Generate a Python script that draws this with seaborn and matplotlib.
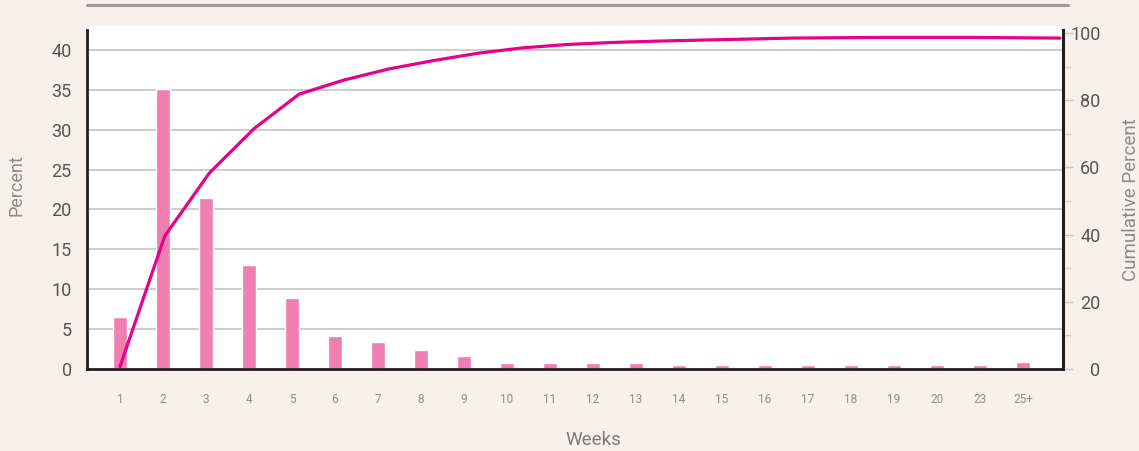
import matplotlib.pyplot as plt
import seaborn as sns
from matplotlib.lines import Line2D
from matplotlib.ticker import MultipleLocator

weeks = ["1", "2", "3", "4", "5", "6", "7", "8", "9", "10", "11", "12",
         "13", "14", "15", "16", "17", "18", "19", "20", "23", "25+"]
percent = [6.5, 35.1, 21.4, 13.0, 8.9, 4.1, 3.4, 2.4, 1.6, 0.8, 0.8, 0.8,
           0.8, 0.45, 0.55, 0.45, 0.45, 0.45, 0.45, 0.45, 0.45, 0.9]
cumulative = [0.7, 39.6, 58.4, 71.6, 81.8, 86.0, 89.3, 91.8, 94.0, 95.6, 96.6,
              97.2, 97.6, 97.9, 98.2, 98.5, 98.6, 98.7, 98.7, 98.7, 98.6, 98.5]

BG = "#f8f1ea"
BAR = "#f07fb1"
LINE = "#e6008a"
SPINE = "#231f20"

sns.set_theme(style="white")
plt.rcParams["font.family"] = ["Roboto", "DejaVu Sans"]

W, H = 1139, 451
fig = plt.figure(figsize=(W / 100, H / 100), dpi=100, facecolor=BG)
rect = [87 / W, (H - 369) / H, (1063 - 87) / W, (369 - 26) / H]

# bars (left axis)
ax = fig.add_axes(rect)
ax.set_facecolor("white")
sns.barplot(x=weeks, y=percent, ax=ax, color=BAR, saturation=1, width=0.326)
ax.set_xlim(-0.767, 21.93)
ax.set_ylim(0, 43.0)
ax.set_yticks(range(0, 45, 5))
ax.yaxis.grid(True, color="#c0c0c0", lw=1.1)
ax.set_axisbelow(True)
for s in ["top", "right"]:
    ax.spines[s].set_visible(False)
for s in ["left", "bottom"]:
    ax.spines[s].set_color(SPINE)
    ax.spines[s].set_linewidth(2.0)
ax.spines["left"].set_bounds(0, 42.5)
ax.tick_params(axis="y", length=0, pad=11, labelsize=13, labelcolor="#555555")
ax.tick_params(axis="x", length=0, pad=17, labelsize=8.5, labelcolor="#8c8c8c")
ax.set_xlabel("Weeks", fontsize=13.5, color="#7a7a7a", va="center")
ax.xaxis.set_label_coords(0.519, -0.207)
ax.set_ylabel("Percent", fontsize=13, color="#8a8a8a", va="center")
ax.yaxis.set_label_coords(-0.0727, 0.536)

# cumulative line (right axis)
ax2 = fig.add_axes(rect)
ax2.patch.set_visible(False)
sns.lineplot(x=list(range(len(cumulative))), y=cumulative, ax=ax2,
             color=LINE, lw=2.3)
ax2.set_xlim(-0.737, 21.067)
ax2.set_ylim(0, 102.1)
ax2.xaxis.set_visible(False)
ax2.yaxis.tick_right()
ax2.yaxis.set_label_position("right")
for s in ["top", "left", "bottom"]:
    ax2.spines[s].set_visible(False)
ax2.spines["right"].set_color(SPINE)
ax2.spines["right"].set_linewidth(2.2)
ax2.spines["right"].set_bounds(0, 100.9)
ax2.set_yticks(range(0, 101, 20))
ax2.yaxis.set_minor_locator(MultipleLocator(10))
ax2.tick_params(axis="y", which="major", length=7, width=1, color="#c8c8c8",
                pad=20, labelsize=13, labelcolor="#555555")
ax2.tick_params(axis="y", which="minor", length=6, width=1, color="#d0d0d0")
plt.setp(ax2.get_yticklabels(), ha="right")
ax2.set_ylabel("Cumulative Percent", fontsize=13.5, color="#8a8a8a",
               va="center", rotation=90)
ax2.yaxis.set_label_coords(1.0697, 0.493)

# thin grey rule across the top
fig.add_artist(Line2D([87 / W, 1068 / W], [1 - 5 / H, 1 - 5 / H],
                      transform=fig.transFigure, color="#9a9a9a", lw=2.2))

fig.savefig("out.png", dpi=100, facecolor=BG)
